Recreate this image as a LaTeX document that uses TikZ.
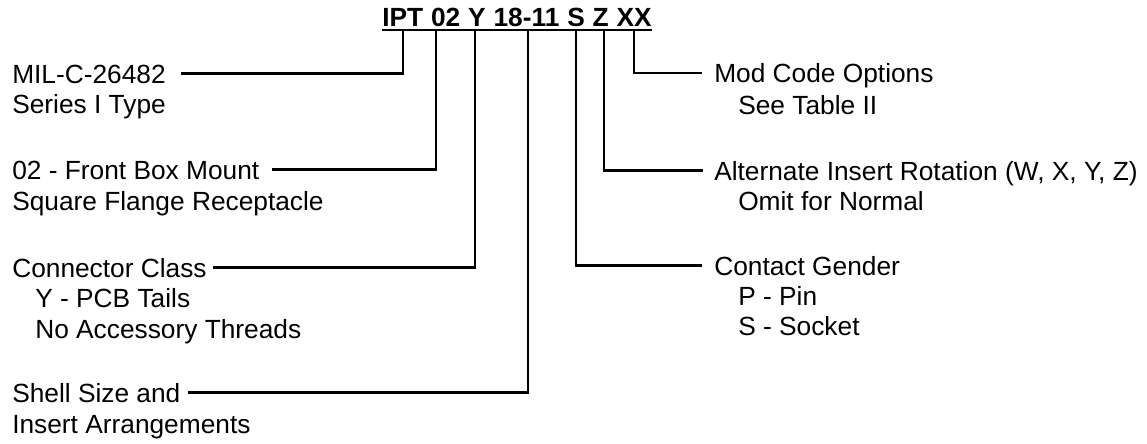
\documentclass[tikz,border=0pt]{standalone}
\usepackage{fontspec}
\setmainfont{Liberation Sans}
\usepackage{tikz}
\usetikzlibrary{positioning}
\newcommand{\lblfont}{\fontsize{18.7pt}{21.3pt}\selectfont}
\tikzset{
  lbl/.style={anchor=base west, inner sep=0pt, text height=13.5pt, text depth=0pt, font=\lblfont},
  code/.style={inner sep=0pt, text height=13.5pt, text depth=0pt, font=\lblfont\bfseries},
  lead/.style={line width=1.45pt}
}

\begin{document}
\begin{tikzpicture}[x=0.025cm, y=-0.025cm]
  \useasboundingbox (0,0) rectangle (1147,443);
  % part number
  \node[code, anchor=base west] (ipt) at (382,26.7) {IPT};
  \node[code, right=5.2pt of ipt] (n02) {02};
  \node[code, right=5.2pt of n02] (ny) {Y};
  \node[code, right=5.2pt of ny] (size) {18-11};
  \node[code, right=5.2pt of size] (ns) {S};
  \node[code, right=5.2pt of ns] (nz) {Z};
  \node[code, right=5.2pt of nz] (xx) {XX};
  \draw[lead] ([yshift=-2.4pt]ipt.south west) -- ([yshift=-2.4pt]xx.south east);

  % left labels
  \node[lbl] (mil) at (12,83) {MIL-C-26482};
  \node[lbl] (milb) at (12,113) {Series I Type};
  \node[lbl] (mount) at (12,179) {02 - Front Box Mount};
  \node[lbl] (mountb) at (12,210) {Square Flange Receptacle};
  \node[lbl] (class) at (12,277) {Connector Class};
  \node[lbl] (classb) at (35,307) {Y - PCB Tails};
  \node[lbl] (classc) at (35,338) {No Accessory Threads};
  \node[lbl] (shell) at (12,402) {Shell Size and};
  \node[lbl] (shellb) at (12,433) {Insert Arrangements};

  % right labels
  \node[lbl] (mod) at (714,82.5) {Mod Code Options};
  \node[lbl] (modb) at (738,114) {See Table II};
  \node[lbl] (rot) at (714,180) {Alternate Insert Rotation (W, X, Y, Z)};
  \node[lbl] (rotb) at (738,210) {Omit for Normal};
  \node[lbl] (gender) at (714,275) {Contact Gender};
  \node[lbl] (genderb) at (738,305) {P - Pin};
  \node[lbl] (genderc) at (738,335) {S - Socket};

  % leaders
  \foreach \part/\dx/\lab/\gap in {ipt/0pt/mil/10.6pt, n02/-7pt/mount/8.5pt,
      ny/-1.6pt/class/4.5pt, size/1.2pt/shell/5pt}
    \draw[lead, shorten >=\gap] ([xshift=\dx, yshift=-2.4pt]\part.south) |- (\lab.east);
  \foreach \part/\dx/\lab/\gap in {xx/0pt/mod/8.5pt, nz/2pt/rot/7.5pt, ns/0pt/gender/8.5pt}
    \draw[lead, shorten >=\gap] ([xshift=\dx, yshift=-2.4pt]\part.south) |- (\lab.west);
\end{tikzpicture}
\end{document}
